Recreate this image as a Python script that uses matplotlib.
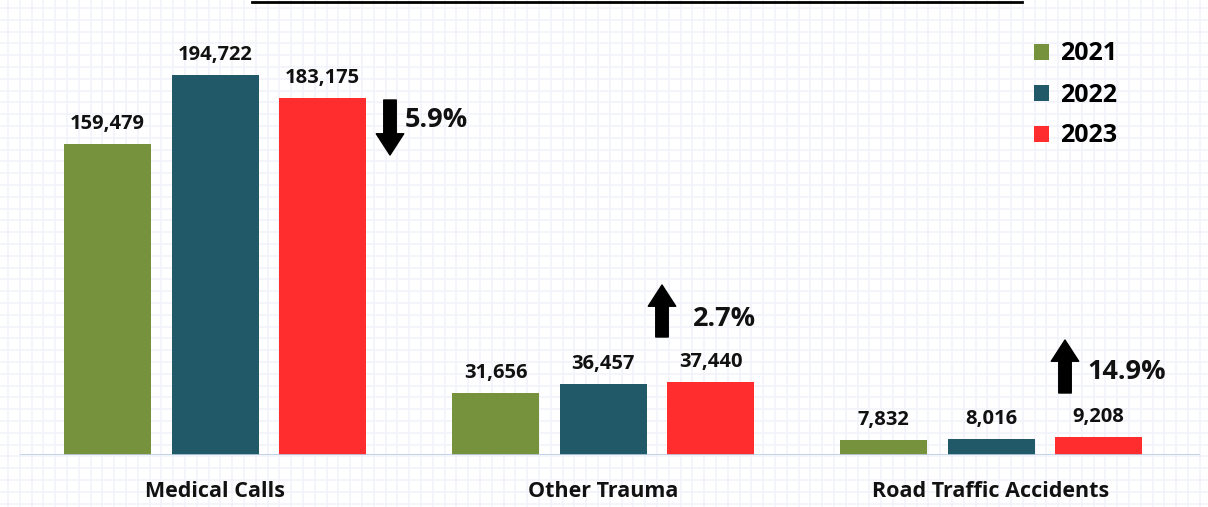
import matplotlib.pyplot as plt
from matplotlib.patches import Patch
import numpy as np

categories = ['Medical Calls', 'Other Trauma', 'Road Traffic Accidents']
years = ['2021', '2022', '2023']
values_2021 = [159479, 31656, 7832]
values_2022 = [194722, 36457, 8016]
values_2023 = [183175, 37440, 9208]
changes = ['5.9%', '2.7%', '14.9%']

colors = ['#76923c', '#215968', '#ff2d2d']

W, H = 1208, 507
fig = plt.figure(figsize=(W / 100, H / 100), dpi=100)
plt.rcParams['font.family'] = ['Open Sans', 'DejaVu Sans']

# faint graph-paper background
bg = fig.add_axes([0, 0, 1, 1])
bg.set_xlim(0, W)
bg.set_ylim(H, 0)
for gx in np.arange(8, W, 11.8):
    bg.axvline(gx, color='#f1f3fb', lw=1.2)
for gy in np.arange(8, H, 11.8):
    bg.axhline(gy, color='#f1f3fb', lw=1.2)
bg.plot([252, 1022], [2, 2], color='black', lw=2)
bg.axis('off')

# main axes: baseline at y=455 px, x from 20 to 1200 px
group_px = 388.0
scale = 0.001951  # px per unit
ax = fig.add_axes([20 / W, (H - 455) / H, 1180 / W, 455 / H])
ax.patch.set_alpha(0)
ax.set_xlim((20 - 215) / group_px, (1200 - 215) / group_px)
ax.set_ylim(0, 455 / scale)

x = np.arange(len(categories))
width = 87 / group_px
offset = 107.5 / group_px
series = [values_2021, values_2022, values_2023]
for i, vals in enumerate(series):
    xs = x + (i - 1) * offset
    ax.bar(xs, vals, width, color=colors[i], label=years[i])
    for xi, v in zip(xs, vals):
        ax.text(xi, v + 20 / scale, f'{v:,}', ha='center', va='center',
                fontsize=14.5, fontweight='bold', color='#111111')

ax.axhline(0, color='#b8cce4', lw=1.2)

# change arrows
arrow_dx = [67.5, -48.5, -33.5]      # px from red bar centre
arrow_tail = [100, 337, 393]         # px from top
arrow_head = [155, 285, 340]
text_dx = [15, 31, 22]
text_y = [120, 319, 372]
for j in range(len(categories)):
    ax_x = x[j] + offset + arrow_dx[j] / group_px
    y0 = (455 - arrow_tail[j]) / scale
    y1 = (455 - arrow_head[j]) / scale
    ax.annotate('', xy=(ax_x, y1), xytext=(ax_x, y0),
                arrowprops=dict(arrowstyle='simple,head_length=0.85,head_width=1.1,tail_width=0.5',
                                color='black', mutation_scale=18, shrinkA=0, shrinkB=0))
    ax.text(ax_x + text_dx[j] / group_px, (455 - text_y[j]) / scale,
            changes[j], ha='left', va='center', fontsize=19.5, fontweight='bold', color='#111111')

ax.set_xticks(x)
ax.set_xticklabels(categories, fontsize=15.5, fontweight='bold', color='#111111')
ax.tick_params(axis='x', length=0, pad=19)
ax.set_yticks([])
for s in ax.spines.values():
    s.set_visible(False)

handles = [Patch(facecolor=c, label=y) for c, y in zip(colors, years)]
leg = ax.legend(handles=handles, loc='upper left', bbox_to_anchor=(991 / 1180, 1 - 19 / 455),
                frameon=False, fontsize=18, handlelength=0.6, handleheight=0.6,
                handletextpad=0.45, labelspacing=0.64)
for t in leg.get_texts():
    t.set_fontweight('bold')

fig.savefig('out.png', dpi=100)
